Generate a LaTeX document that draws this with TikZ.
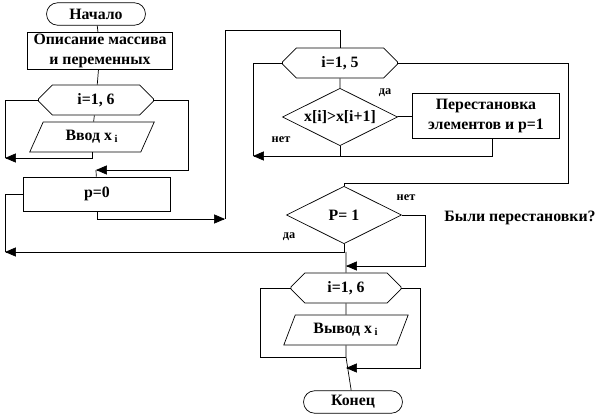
\documentclass[tikz,border=0pt]{standalone}
\usepackage{fontspec}
\setmainfont{Liberation Serif}
\usetikzlibrary{arrows}
\usetikzlibrary{shapes.geometric}
\usetikzlibrary{shapes.misc}

\tikzset{
  base/.style={draw, thin, font=\bfseries\small, inner sep=1pt, align=center},
  term/.style={base, rounded rectangle, minimum width=2.05cm, minimum height=0.45cm},
  proc/.style={base, rectangle, minimum width=2.95cm, minimum height=0.68cm},
  loop/.style={base, chamfered rectangle, chamfered rectangle xsep=0.3cm, minimum width=2.3cm, minimum height=0.6cm},
  io/.style={base, trapezium, trapezium left angle=65, trapezium right angle=115, trapezium stretches=true, minimum width=2.5cm, minimum height=0.6cm},
  cond/.style={base, diamond, aspect=2, minimum width=2.3cm, minimum height=1.15cm},
  lbl/.style={font=\bfseries\scriptsize},
  link/.style={thin},
  arr/.style={thin, -triangle 45}
}

\begin{document}
\begin{tikzpicture}[x=0.02cm, y=-0.02cm]
  \useasboundingbox (0,0) rectangle (600,419);

  \node [term] (start) at (96,14)  {Начало};
  \node [proc, minimum width=2.9cm, minimum height=0.74cm] (decl) at (100,51) {Описание массива\\ и переменных};
  \node [loop] (loopA)  at (96,100) {i=1, 6};
  \node [io]   (input)  at (92,137) {Ввод x\,$_{\mathbf i}$};
  \node [proc] (pzero)  at (97,194) {p=0};

  \node [loop] (loopB)  at (340,63)  {i=1, 5};
  \node [cond] (cmp)    at (340,117) {x[i]>x[i+1]};
  \node [proc, minimum width=2.95cm, minimum height=0.9cm] (swap) at (486,116) {Перестановка\\ элементов и p=1};
  \node [cond] (check)  at (344,215) {P= 1};

  \node [loop, minimum width=2.2cm] (loopC) at (346,288) {i=1, 6};
  \node [io]   (output) at (346,330) {Вывод x\,$_{\mathbf i}$};
  \node [term] (stop)   at (353,402) {Конец};

  \node [lbl] at (385,93)  {да};
  \node [lbl] at (281,140) {нет};
  \node [lbl] at (406,198) {нет};
  \node [lbl] at (289,237) {да};
  \node [font=\bfseries\small] (note) at (520,218) {Были перестановки?};

  % first loop
  \draw [link] (start) -- (decl);
  \draw [link] (decl) -- (loopA);
  \draw [link] (loopA) -- (input);
  \draw [link] (loopA.west) -| (5,158);
  \draw [arr] (input.south) |- (5,158);
  \draw [arr] (loopA.east) -| (188,170) -- (96,170);
  \draw [link] (96,170) -- (pzero);

  % sorting loop
  \draw [arr] (pzero.south) |- (225,219);
  \draw [link] (225,219) |- (340,30) -- (loopB.north);
  \draw [link] (loopB) -- (cmp);
  \draw [link] (cmp) -- (swap);
  \draw [link] (loopB.west) -| (253,156);
  \draw [arr] (swap.south -| 492,0) |- (253,156);
  \draw [link] (cmp.south) -- (340,156);
  \draw [link] (loopB.east) -| (568,183) -| (check.north);

  % check
  \draw [link] (pzero.west) -| (5,252);
  \draw [arr] (check.south) |- (5,252);
  \draw [arr] (check.east) -| (425,266) -- (346,266);
  \draw [link] (346,252) -- (loopC);

  % output loop
  \draw [link] (loopC) -- (output);
  \draw [link] (loopC.west) -| (260,357) -- (346,357);
  \draw [link] (output) -- (346,357);
  \draw [arr] (loopC.east) -| (420,368) -- (346,368);
  \draw [link] (346,357) -- (stop);
\end{tikzpicture}
\end{document}
